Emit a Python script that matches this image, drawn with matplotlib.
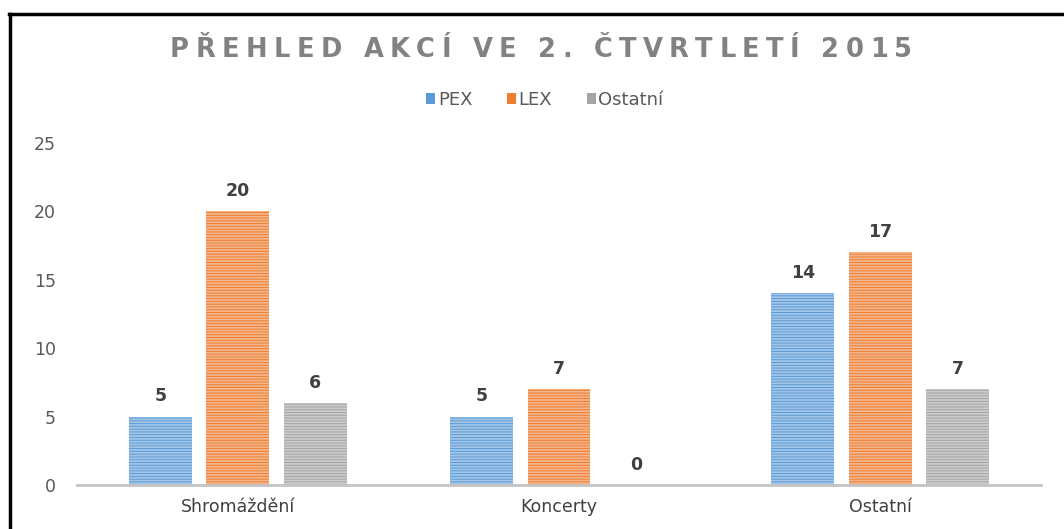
import numpy as np
import matplotlib
matplotlib.use("Agg")
import matplotlib.pyplot as plt
from matplotlib.lines import Line2D
from matplotlib.patches import Patch

categories = ["Shromáždění", "Koncerty", "Ostatní"]
series = ["PEX", "LEX", "Ostatní"]
pex = [5, 5, 14]
lex = [20, 7, 17]
ostatni = [6, 0, 7]
title = "PŘEHLED AKCÍ VE 2. ČTVRTLETÍ 2015"

base_colors = ["#5B9BD5", "#ED7D31", "#A5A5A5"]
face_colors = ["#A3C6E8", "#F5B48A", "#CBCBCB"]

plt.rcParams["font.family"] = ["DejaVu Sans"]
plt.rcParams["hatch.linewidth"] = 0.7

W, H = 1064, 529
fig = plt.figure(figsize=(W / 100, H / 100), dpi=100)
ax = fig.add_axes([77 / W, (H - 485) / H, (1041 - 77) / W, (485 - 143) / H])

x = np.arange(len(categories))
width = 0.196
step = 0.241
for i, vals in enumerate([pex, lex, ostatni]):
    pos = x + (i - 1) * step
    bars = ax.bar(pos, vals, width, color=face_colors[i], edgecolor=base_colors[i],
                  hatch="------", linewidth=0, zorder=2)
    for b, v in zip(bars, vals):
        ax.annotate(str(v), (b.get_x() + b.get_width() / 2, v), xytext=(0, 8),
                    textcoords="offset points", ha="center", va="bottom",
                    fontsize=12.5, color="#404040", fontweight="semibold")

ax.set_xlim(-0.5, 2.5)
ax.set_ylim(0, 25)
ax.set_yticks(range(0, 26, 5))
ax.set_xticks(x)
ax.set_xticklabels(categories)
for s in ["top", "right", "left"]:
    ax.spines[s].set_visible(False)
ax.spines["bottom"].set_color("#C4C4C4")
ax.spines["bottom"].set_linewidth(2)
ax.tick_params(axis="y", length=0, pad=15, labelsize=12.5, labelcolor="#595959")
ax.tick_params(axis="x", length=0, pad=9, labelsize=12.5, labelcolor="#404040")

# legend
handles = [Patch(facecolor=c, edgecolor="none") for c in base_colors]
fig.legend(handles, series, loc="center", bbox_to_anchor=(545 / W, 1 - 100 / H),
           ncol=3, frameon=False, fontsize=13, handlelength=0.5, handleheight=0.5,
           handletextpad=0.15, columnspacing=1.9, labelcolor="#595959")

# letter-spaced title
renderer = fig.canvas.get_renderer()
tprops = dict(fontsize=18.5, fontweight="bold", color="#828282")
widths = []
for ch in title:
    t = fig.text(0, 0, ch if ch != " " else "i", **tprops)
    widths.append(t.get_window_extent(renderer).width)
    t.remove()
target = 912 - 170
track = (target - sum(widths)) / (len(title) - 1)
xpos = 170.0
for ch, w in zip(title, widths):
    if ch != " ":
        fig.text(xpos / W, 1 - 57 / H, ch, ha="left", va="baseline", **tprops)
    xpos += w + track

# frame border
fig.add_artist(Line2D([10 / W, 10 / W], [0, 1 - 14 / H], color="black", lw=2.5))
fig.add_artist(Line2D([9 / W, 1], [1 - 14 / H, 1 - 14 / H], color="black", lw=2.5))

fig.savefig("out.png", dpi=100)
